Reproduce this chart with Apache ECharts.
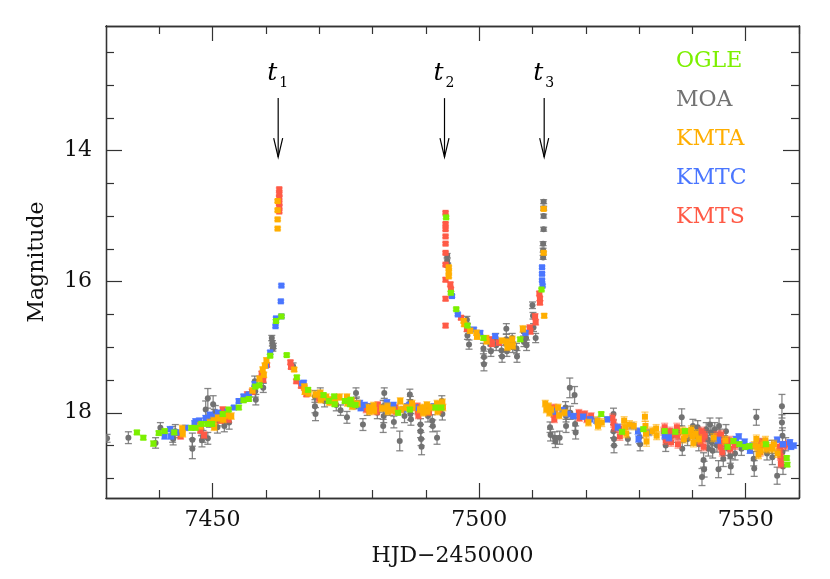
<!DOCTYPE html>
<html>
<head>
<meta charset="utf-8">
<script src="https://cdn.jsdelivr.net/npm/echarts@6.0.0/dist/echarts.min.js"></script>
<style>
  html, body { margin: 0; padding: 0; background: #fff; }
  #chart { width: 830px; height: 579px; }
</style>
</head>
<body>
<div id="chart"></div>
<script>
// [HJD-2450000, magnitude, error]
const ogle = [
  [7435.8, 18.30, 0.03], [7437.0, 18.38, 0.03], [7438.9, 18.47, 0.04], [7439.9, 18.31, 0.03],
  [7441.0, 18.28, 0.03], [7442.8, 18.30, 0.03], [7446.0, 18.23, 0.03], [7446.8, 18.23, 0.03],
  [7447.9, 18.17, 0.03], [7449.0, 18.17, 0.03], [7449.9, 18.17, 0.03], [7451.9, 18.02, 0.03],
  [7453.0, 17.95, 0.03], [7454.9, 17.92, 0.03], [7455.8, 17.81, 0.03], [7456.8, 17.79, 0.03],
  [7458.0, 17.60, 0.03], [7458.8, 17.58, 0.03], [7460.8, 17.13, 0.02], [7461.9, 16.60, 0.02],
  [7462.9, 16.53, 0.02], [7463.9, 17.12, 0.02], [7465.8, 17.46, 0.03], [7467.9, 17.65, 0.03],
  [7470.8, 17.73, 0.03], [7471.8, 17.82, 0.03], [7472.8, 17.75, 0.03], [7472.9, 17.87, 0.03],
  [7474.8, 17.82, 0.03], [7475.8, 17.87, 0.03], [7475.9, 17.80, 0.03], [7476.8, 17.88, 0.03],
  [7484.8, 18.00, 0.03], [7487.0, 17.95, 0.03], [7491.8, 17.92, 0.03], [7492.9, 17.92, 0.03],
  [7493.8, 15.02, 0.02], [7494.7, 16.17, 0.02], [7495.7, 16.42, 0.02], [7497.8, 16.67, 0.02],
  [7500.8, 16.86, 0.03], [7507.7, 16.88, 0.03], [7511.7, 16.12, 0.02], [7522.9, 18.02, 0.03],
  [7526.8, 18.29, 0.03], [7530.8, 18.25, 0.03], [7534.8, 18.28, 0.03], [7536.8, 18.29, 0.03],
  [7538.6, 18.28, 0.03], [7546.6, 18.52, 0.03], [7547.7, 18.43, 0.03], [7548.8, 18.48, 0.03],
  [7549.9, 18.52, 0.03], [7550.7, 18.51, 0.03], [7553.8, 18.48, 0.03], [7557.7, 18.69, 0.03],
  [7557.8, 18.79, 0.03]
];

const moa = [
  [7430.2, 18.39, 0.06], [7434.2, 18.38, 0.09], [7439.3, 18.46, 0.08], [7440.2, 18.23, 0.08],
  [7442.5, 18.33, 0.12], [7442.6, 18.40, 0.09], [7443.0, 18.28, 0.10], [7446.2, 18.41, 0.10],
  [7446.2, 18.55, 0.15], [7447.9, 18.25, 0.10], [7448.0, 18.42, 0.10], [7448.2, 18.36, 0.09],
  [7448.7, 17.95, 0.13], [7449.1, 17.78, 0.15], [7449.1, 18.39, 0.09], [7449.4, 18.12, 0.10],
  [7450.1, 17.87, 0.13], [7450.3, 18.05, 0.10], [7450.5, 18.00, 0.11], [7450.9, 18.22, 0.09],
  [7451.0, 18.10, 0.10], [7452.2, 18.20, 0.09], [7452.4, 18.06, 0.10], [7453.1, 18.15, 0.10],
  [7457.9, 17.52, 0.08], [7458.0, 17.67, 0.09], [7458.1, 17.80, 0.08], [7459.4, 17.47, 0.07],
  [7459.5, 17.62, 0.07], [7461.1, 16.86, 0.04], [7461.2, 16.94, 0.04], [7461.3, 17.02, 0.04],
  [7461.4, 16.98, 0.04], [7465.1, 17.29, 0.05], [7469.2, 17.75, 0.09], [7469.2, 17.90, 0.10],
  [7469.3, 18.02, 0.10], [7470.2, 17.70, 0.08], [7471.0, 17.82, 0.09], [7473.2, 17.88, 0.09],
  [7474.0, 17.96, 0.08], [7475.2, 18.07, 0.09], [7476.9, 17.70, 0.08], [7477.0, 17.85, 0.09],
  [7478.2, 18.18, 0.09], [7479.0, 17.95, 0.09], [7480.9, 18.00, 0.09], [7482.0, 17.90, 0.09],
  [7482.1, 18.05, 0.10], [7482.2, 17.70, 0.08], [7482.0, 18.20, 0.10], [7483.2, 17.95, 0.09],
  [7484.0, 18.14, 0.09], [7485.1, 18.43, 0.15], [7486.0, 18.05, 0.10], [7487.0, 17.72, 0.08],
  [7487.1, 17.83, 0.08], [7487.1, 18.02, 0.09], [7487.2, 18.10, 0.09], [7489.0, 18.18, 0.09],
  [7489.0, 18.28, 0.10], [7489.1, 18.40, 0.10], [7489.2, 18.52, 0.12], [7490.4, 18.05, 0.09],
  [7491.2, 18.12, 0.09], [7491.3, 18.20, 0.09], [7492.1, 18.38, 0.10], [7493.0, 17.82, 0.08],
  [7493.1, 18.02, 0.09],
  [7494.0, 15.60, 0.03], [7494.0, 15.68, 0.03], [7494.1, 15.75, 0.03], [7497.7, 16.58, 0.05],
  [7497.8, 16.70, 0.06], [7497.8, 16.82, 0.06], [7498.1, 16.96, 0.07], [7500.8, 17.02, 0.08],
  [7500.9, 17.15, 0.09], [7500.9, 17.26, 0.10], [7502.1, 16.95, 0.08], [7502.2, 17.06, 0.08],
  [7503.1, 16.86, 0.07], [7503.2, 16.97, 0.08], [7504.2, 17.05, 0.08], [7504.3, 17.14, 0.09],
  [7505.1, 16.72, 0.08], [7505.1, 16.88, 0.08], [7505.2, 17.06, 0.08], [7506.2, 16.86, 0.07],
  [7506.3, 17.00, 0.08], [7507.0, 17.02, 0.08], [7507.1, 17.14, 0.09], [7508.3, 16.76, 0.07],
  [7508.4, 16.92, 0.07], [7508.8, 16.86, 0.07], [7508.9, 16.97, 0.08], [7510.0, 16.36, 0.05],
  [7510.1, 16.52, 0.05], [7510.2, 16.70, 0.06], [7510.6, 16.86, 0.07], [7512.0, 15.42, 0.03],
  [7512.0, 15.52, 0.03], [7512.0, 15.63, 0.03], [7512.1, 15.20, 0.03], [7512.1, 14.78, 0.03],
  [7512.1, 14.88, 0.03], [7512.1, 15.00, 0.03],
  [7513.3, 18.22, 0.08], [7513.4, 18.34, 0.09], [7514.2, 18.38, 0.09], [7514.3, 18.44, 0.09],
  [7515.1, 18.38, 0.10], [7516.2, 17.92, 0.09], [7516.3, 18.05, 0.09], [7516.3, 18.20, 0.10],
  [7517.0, 17.62, 0.15], [7517.1, 18.00, 0.10], [7517.9, 17.73, 0.13], [7518.0, 18.17, 0.10],
  [7518.1, 18.30, 0.10], [7525.2, 18.02, 0.09], [7525.2, 18.28, 0.10], [7525.3, 18.40, 0.10],
  [7525.3, 18.50, 0.11], [7527.9, 18.40, 0.09], [7530.1, 18.37, 0.10], [7530.2, 18.48, 0.10],
  [7535.0, 18.50, 0.09], [7536.2, 18.35, 0.10], [7537.5, 18.30, 0.10], [7538.0, 18.07, 0.13],
  [7538.1, 18.55, 0.10], [7539.1, 18.40, 0.10], [7540.1, 18.20, 0.10], [7540.6, 18.30, 0.10],
  [7541.0, 18.22, 0.10], [7541.1, 18.35, 0.10], [7541.2, 18.48, 0.10], [7541.8, 18.98, 0.13],
  [7542.1, 18.72, 0.11], [7542.2, 18.86, 0.12], [7542.6, 18.25, 0.10], [7542.8, 18.40, 0.10],
  [7543.0, 18.55, 0.11], [7543.3, 18.18, 0.10], [7543.5, 18.30, 0.10], [7543.6, 18.45, 0.11],
  [7543.8, 18.58, 0.11], [7544.2, 18.25, 0.10], [7544.3, 18.40, 0.10], [7544.6, 18.50, 0.10],
  [7544.9, 18.86, 0.13], [7545.0, 18.20, 0.12], [7545.2, 18.35, 0.10], [7545.7, 18.62, 0.11],
  [7545.8, 18.70, 0.12], [7546.0, 18.45, 0.10], [7546.3, 18.28, 0.10], [7546.8, 18.55, 0.10],
  [7547.1, 18.66, 0.11], [7547.2, 18.82, 0.12], [7548.0, 18.62, 0.10], [7549.2, 18.55, 0.10],
  [7551.5, 18.70, 0.11], [7551.6, 18.85, 0.12], [7552.0, 18.07, 0.12], [7553.0, 18.50, 0.10],
  [7554.0, 18.62, 0.10], [7554.9, 18.52, 0.10], [7555.0, 18.68, 0.11], [7555.9, 18.96, 0.13],
  [7556.8, 17.90, 0.18], [7556.8, 18.15, 0.12], [7556.9, 18.35, 0.12], [7556.9, 18.60, 0.12],
  [7557.0, 18.82, 0.12], [7557.5, 18.48, 0.10]
];

const kmta = [
  [7444.3, 18.24, 0.05], [7444.4, 18.32, 0.05], [7447.7, 18.20, 0.05], [7449.5, 18.15, 0.05],
  [7450.2, 18.12, 0.05], [7450.3, 18.22, 0.05], [7451.0, 18.08, 0.05], [7452.0, 18.10, 0.05],
  [7452.6, 18.04, 0.05], [7453.5, 18.05, 0.05], [7457.5, 17.66, 0.04], [7458.8, 17.48, 0.04],
  [7459.4, 17.34, 0.04], [7459.6, 17.42, 0.04], [7459.8, 17.28, 0.04], [7460.1, 17.20, 0.04],
  [7462.2, 14.77, 0.02], [7462.2, 14.91, 0.02], [7462.2, 15.05, 0.02], [7462.2, 15.19, 0.02],
  [7465.3, 17.34, 0.03], [7467.2, 17.60, 0.04], [7467.3, 17.68, 0.04], [7468.0, 17.70, 0.05],
  [7469.3, 17.72, 0.05], [7470.2, 17.70, 0.05], [7470.3, 17.80, 0.05], [7471.3, 17.76, 0.05],
  [7471.9, 17.84, 0.05], [7472.2, 17.80, 0.05], [7473.0, 17.82, 0.05], [7473.8, 17.76, 0.05],
  [7475.2, 17.76, 0.05], [7475.3, 17.85, 0.05], [7476.1, 17.82, 0.05], [7476.2, 17.90, 0.05],
  [7477.2, 17.86, 0.05], [7479.3, 17.92, 0.05], [7479.4, 17.98, 0.05], [7480.2, 17.89, 0.05],
  [7480.3, 17.97, 0.05], [7481.8, 17.93, 0.05], [7482.8, 17.90, 0.05], [7482.9, 17.98, 0.05],
  [7483.8, 17.96, 0.05], [7485.2, 17.82, 0.05], [7485.3, 17.95, 0.05], [7486.3, 17.92, 0.05],
  [7487.4, 17.86, 0.05], [7487.5, 17.92, 0.05], [7488.9, 17.95, 0.05], [7489.4, 17.92, 0.05],
  [7489.5, 18.00, 0.05], [7490.2, 17.88, 0.05], [7490.3, 17.98, 0.05], [7491.0, 17.92, 0.05],
  [7492.1, 17.86, 0.05], [7492.2, 17.98, 0.05], [7493.1, 17.84, 0.05], [7493.2, 17.92, 0.05],
  [7494.3, 15.78, 0.02], [7494.3, 15.85, 0.02], [7494.3, 15.92, 0.02], [7497.1, 16.60, 0.03],
  [7497.2, 16.65, 0.03], [7498.3, 16.75, 0.04], [7499.5, 16.78, 0.04], [7499.6, 16.84, 0.04],
  [7501.3, 16.86, 0.04], [7501.4, 16.91, 0.04], [7504.3, 16.90, 0.04], [7505.2, 16.92, 0.05],
  [7505.3, 17.00, 0.05], [7506.2, 16.88, 0.05], [7506.3, 16.98, 0.05], [7508.2, 16.72, 0.05],
  [7512.1, 14.89, 0.02], [7512.1, 15.56, 0.02], [7512.2, 16.52, 0.03],
  [7512.4, 17.86, 0.05], [7512.6, 17.95, 0.05], [7513.0, 17.90, 0.05], [7513.2, 18.00, 0.05],
  [7513.5, 17.95, 0.05], [7514.8, 17.92, 0.05], [7515.0, 18.04, 0.05], [7516.0, 18.00, 0.05],
  [7520.5, 18.15, 0.05], [7522.2, 18.12, 0.06], [7522.3, 18.20, 0.06], [7523.0, 18.15, 0.06],
  [7527.2, 18.12, 0.06], [7527.4, 18.22, 0.06], [7527.6, 18.32, 0.06], [7528.2, 18.18, 0.06],
  [7529.0, 18.20, 0.06], [7531.1, 18.06, 0.07], [7531.2, 18.20, 0.07], [7531.3, 18.32, 0.07],
  [7531.4, 18.44, 0.07], [7532.5, 18.28, 0.06], [7533.2, 18.24, 0.06], [7533.3, 18.35, 0.06],
  [7538.2, 18.28, 0.06], [7538.4, 18.40, 0.06], [7538.7, 18.34, 0.06], [7539.4, 18.30, 0.06],
  [7539.8, 18.26, 0.06], [7540.0, 18.36, 0.06], [7540.2, 18.46, 0.06], [7540.6, 18.32, 0.06],
  [7541.2, 18.40, 0.06], [7544.0, 18.38, 0.06], [7546.2, 18.42, 0.06], [7551.6, 18.50, 0.06],
  [7552.0, 18.40, 0.06], [7552.2, 18.52, 0.06], [7552.4, 18.64, 0.06], [7552.8, 18.58, 0.06],
  [7553.3, 18.48, 0.06], [7553.7, 18.42, 0.06], [7553.9, 18.55, 0.06], [7554.3, 18.52, 0.06],
  [7555.0, 18.55, 0.06], [7555.3, 18.48, 0.06], [7556.0, 18.62, 0.06]
];

const kmtc = [
  [7441.0, 18.36, 0.04], [7442.0, 18.25, 0.04], [7442.2, 18.36, 0.04], [7443.2, 18.30, 0.04],
  [7444.9, 18.23, 0.04], [7446.6, 18.16, 0.04], [7446.8, 18.13, 0.04], [7447.5, 18.12, 0.04],
  [7448.7, 18.08, 0.04], [7449.5, 18.03, 0.04], [7449.9, 18.10, 0.04], [7450.3, 18.06, 0.04],
  [7451.0, 18.00, 0.04], [7452.8, 17.98, 0.03], [7454.0, 17.92, 0.03], [7454.9, 17.82, 0.03],
  [7455.8, 17.75, 0.03], [7456.8, 17.72, 0.03], [7457.9, 17.56, 0.03], [7460.0, 17.28, 0.03],
  [7460.8, 17.08, 0.03], [7461.8, 16.68, 0.02], [7461.9, 16.56, 0.02], [7462.9, 16.53, 0.02],
  [7462.8, 16.30, 0.02], [7462.9, 16.06, 0.02], [7466.8, 17.55, 0.03], [7467.1, 17.54, 0.03],
  [7476.5, 17.88, 0.04], [7477.6, 17.85, 0.04], [7477.8, 17.93, 0.04], [7478.5, 17.88, 0.04],
  [7479.9, 17.90, 0.04], [7482.7, 17.84, 0.04], [7482.8, 17.92, 0.04], [7483.9, 17.88, 0.04],
  [7485.8, 17.95, 0.04], [7486.5, 17.90, 0.04], [7486.9, 17.88, 0.04], [7488.0, 17.92, 0.04],
  [7491.5, 17.90, 0.04],
  [7494.9, 16.22, 0.02], [7496.0, 16.50, 0.02], [7499.0, 16.73, 0.03], [7500.2, 16.78, 0.03],
  [7503.0, 16.83, 0.03], [7508.7, 16.78, 0.03], [7511.8, 15.78, 0.02], [7511.8, 15.88, 0.02],
  [7511.8, 15.98, 0.02], [7511.9, 16.06, 0.02],
  [7513.9, 17.98, 0.04], [7515.6, 17.96, 0.04], [7516.6, 18.02, 0.04], [7517.7, 18.05, 0.04],
  [7519.5, 18.06, 0.04], [7520.8, 18.10, 0.04], [7522.0, 18.12, 0.04], [7524.0, 18.10, 0.04],
  [7526.0, 18.22, 0.05], [7528.6, 18.20, 0.05], [7529.8, 18.28, 0.05], [7529.9, 18.40, 0.05],
  [7531.8, 18.30, 0.05], [7534.8, 18.35, 0.05], [7535.6, 18.38, 0.05], [7539.0, 18.32, 0.05],
  [7544.8, 18.42, 0.05], [7548.2, 18.40, 0.04], [7548.7, 18.36, 0.04], [7549.3, 18.48, 0.04],
  [7549.8, 18.44, 0.04], [7550.0, 18.52, 0.04], [7550.6, 18.52, 0.04], [7550.8, 18.58, 0.04],
  [7551.3, 18.50, 0.04], [7555.9, 18.41, 0.04], [7557.0, 18.48, 0.04], [7558.3, 18.45, 0.04],
  [7558.5, 18.52, 0.04], [7559.0, 18.50, 0.04]
];

const kmts = [
  [7443.5, 18.31, 0.04], [7444.0, 18.36, 0.04], [7447.7, 18.27, 0.04], [7448.4, 18.34, 0.05],
  [7451.5, 18.12, 0.04], [7451.9, 17.95, 0.04], [7452.5, 18.05, 0.04], [7453.0, 18.10, 0.05],
  [7456.5, 17.72, 0.04], [7457.4, 17.68, 0.04], [7459.2, 17.40, 0.03], [7459.5, 17.50, 0.03],
  [7460.2, 17.27, 0.03], [7462.5, 14.59, 0.02], [7462.5, 14.66, 0.02], [7462.5, 14.72, 0.02],
  [7462.5, 14.80, 0.02], [7462.5, 14.86, 0.02], [7462.5, 14.93, 0.02], [7464.6, 17.23, 0.03],
  [7464.7, 17.30, 0.03], [7465.7, 17.52, 0.03], [7466.6, 17.59, 0.03], [7467.2, 17.62, 0.03],
  [7467.6, 17.72, 0.03], [7470.0, 17.78, 0.05], [7478.8, 17.95, 0.05], [7480.7, 17.92, 0.05],
  [7480.8, 17.98, 0.05], [7481.0, 17.88, 0.05], [7483.5, 17.95, 0.05], [7484.3, 17.92, 0.05],
  [7484.4, 17.98, 0.05], [7488.4, 17.90, 0.05], [7488.5, 17.98, 0.05], [7488.6, 18.04, 0.05],
  [7489.0, 17.94, 0.05], [7490.5, 17.92, 0.05], [7490.6, 17.99, 0.05], [7492.5, 17.95, 0.05],
  [7493.7, 14.95, 0.02], [7493.7, 15.12, 0.02], [7493.7, 15.20, 0.02], [7493.7, 15.31, 0.02],
  [7493.7, 15.42, 0.02], [7493.7, 15.56, 0.02], [7493.7, 15.74, 0.02], [7493.7, 15.97, 0.03],
  [7493.7, 16.26, 0.03], [7493.7, 16.67, 0.03], [7494.6, 16.04, 0.03], [7494.7, 16.12, 0.03],
  [7496.6, 16.55, 0.03], [7497.7, 16.72, 0.04], [7502.3, 16.88, 0.04], [7502.4, 16.95, 0.04],
  [7503.7, 16.93, 0.04], [7509.5, 16.70, 0.04], [7509.6, 16.76, 0.04], [7510.5, 16.53, 0.04],
  [7510.6, 16.62, 0.04], [7511.3, 16.18, 0.03], [7511.4, 16.26, 0.03], [7511.4, 16.32, 0.03],
  [7514.0, 17.92, 0.05], [7514.0, 18.02, 0.05], [7514.1, 18.10, 0.05], [7514.2, 17.98, 0.05],
  [7518.7, 18.00, 0.05], [7518.8, 18.08, 0.05], [7518.9, 18.04, 0.05], [7519.8, 18.02, 0.05],
  [7520.2, 18.10, 0.05], [7521.0, 18.05, 0.05], [7525.0, 18.08, 0.06], [7525.2, 18.16, 0.06],
  [7525.4, 18.22, 0.06], [7526.3, 18.24, 0.06], [7526.4, 18.36, 0.06], [7534.6, 18.28, 0.06],
  [7534.8, 18.22, 0.06], [7534.9, 18.32, 0.06], [7535.0, 18.42, 0.06], [7535.5, 18.36, 0.06],
  [7535.8, 18.28, 0.06], [7536.0, 18.45, 0.06], [7536.3, 18.32, 0.06], [7537.1, 18.22, 0.06],
  [7537.2, 18.35, 0.06], [7537.3, 18.48, 0.06], [7538.8, 18.30, 0.06], [7541.5, 18.45, 0.06],
  [7541.7, 18.28, 0.06], [7541.9, 18.40, 0.06], [7542.0, 18.32, 0.06], [7542.1, 18.52, 0.06],
  [7542.3, 18.35, 0.06], [7544.6, 18.35, 0.06], [7545.3, 18.52, 0.06], [7545.4, 18.33, 0.06],
  [7545.5, 18.45, 0.06], [7545.6, 18.60, 0.06], [7546.7, 18.48, 0.06], [7547.0, 18.42, 0.06],
  [7547.1, 18.55, 0.06], [7548.0, 18.50, 0.06], [7552.6, 18.52, 0.06], [7552.7, 18.60, 0.06],
  [7552.8, 18.45, 0.06], [7556.3, 18.58, 0.06], [7556.4, 18.52, 0.06], [7556.5, 18.66, 0.06],
  [7556.6, 18.78, 0.06], [7556.7, 18.70, 0.06], [7557.3, 18.50, 0.06], [7558.0, 18.48, 0.06]
];

// caustic times marked with arrows
const tTimes = [7462.3, 7493.5, 7512.2];
const tNames = ['1', '2', '3'];

const xMajor = [7450, 7500, 7550];
const xMinor = [7440, 7460, 7470, 7480, 7490, 7510, 7520, 7530, 7540, 7560];
const yMajor = [14, 16, 18];
const yMinor = [12.5, 13, 13.5, 14.5, 15, 15.5, 16.5, 17, 17.5, 18.5, 19];

const FONT = 'DejaVu Serif';
const AXIS_COLOR = '#333';

const colors = {
  OGLE: '#7cf000',
  MOA: '#727272',
  KMTA: '#ffae00',
  KMTC: '#4a76ff',
  KMTS: '#ff5a46'
};
const barColors = {
  OGLE: 'rgba(124,240,0,0.6)',
  MOA: 'rgba(114,114,114,0.85)',
  KMTA: 'rgba(255,174,0,0.6)',
  KMTC: 'rgba(74,118,255,0.55)',
  KMTS: 'rgba(255,90,70,0.55)'
};

const chart = echarts.init(document.getElementById('chart'));

function pointRender(name, round) {
  return function (params, api) {
    const t = api.value(0), m = api.value(1), e = api.value(2);
    const c = api.coord([t, m]);
    const hi = api.coord([t, m - e]);
    const lo = api.coord([t, m + e]);
    const cap = 3.5;
    const ls = { stroke: barColors[name], lineWidth: 1.3 };
    const marker = round
      ? { type: 'circle', shape: { cx: c[0], cy: c[1], r: 3 }, style: { fill: colors[name] } }
      : { type: 'rect', shape: { x: c[0] - 3, y: c[1] - 3, width: 6, height: 6 }, style: { fill: colors[name] } };
    return {
      type: 'group',
      children: [
        { type: 'line', shape: { x1: c[0], y1: hi[1], x2: c[0], y2: lo[1] }, style: ls },
        { type: 'line', shape: { x1: c[0] - cap, y1: hi[1], x2: c[0] + cap, y2: hi[1] }, style: ls },
        { type: 'line', shape: { x1: c[0] - cap, y1: lo[1], x2: c[0] + cap, y2: lo[1] }, style: ls },
        marker
      ]
    };
  };
}

function survey(name, data, round) {
  return {
    name: name,
    type: 'custom',
    clip: true,
    data: data,
    encode: { x: 0, y: 1 },
    renderItem: pointRender(name, round)
  };
}

function arrowRender(params, api) {
  const t = api.value(0);
  const top = api.coord([t, 13.2]);
  const tip = api.coord([t, 14.1]);
  const ls = { stroke: '#000', lineWidth: 1.2 };
  return {
    type: 'group',
    children: [
      { type: 'line', shape: { x1: top[0], y1: top[1], x2: tip[0], y2: tip[1] }, style: ls },
      {
        type: 'polyline',
        shape: { points: [[tip[0] - 4.5, tip[1] - 19], [tip[0], tip[1]], [tip[0] + 4.5, tip[1] - 19]] },
        style: { stroke: '#000', lineWidth: 1.2, fill: null }
      },
      {
        type: 'text',
        style: {
          text: 't', x: top[0] - 6, y: top[1] - 25, align: 'center', verticalAlign: 'middle',
          font: 'italic 25px "DejaVu Serif"', fill: '#000'
        }
      },
      {
        type: 'text',
        style: {
          text: tNames[params.dataIndex], x: top[0] + 5.5, y: top[1] - 15, align: 'center', verticalAlign: 'middle',
          font: '14px "DejaVu Serif"', fill: '#000'
        }
      }
    ]
  };
}

function xAxisDef(position, ticks, length, labels) {
  return {
    type: 'value', position: position, min: 7430, max: 7560,
    axisLine: { show: true, onZero: false, lineStyle: { color: AXIS_COLOR, width: 1.3 } },
    axisTick: { inside: true, length: length, customValues: ticks, lineStyle: { color: AXIS_COLOR, width: 1.2 } },
    axisLabel: labels
      ? { show: true, customValues: xMajor, margin: 11, color: '#111', fontFamily: FONT, fontSize: 22, formatter: v => String(v) }
      : { show: false },
    splitLine: { show: false }
  };
}

function yAxisDef(position, ticks, length, labels) {
  return {
    type: 'value', position: position, min: 12.1, max: 19.3, inverse: true,
    axisLine: { show: true, onZero: false, lineStyle: { color: AXIS_COLOR, width: 1.3 } },
    axisTick: { inside: true, length: length, customValues: ticks, lineStyle: { color: AXIS_COLOR, width: 1.2 } },
    axisLabel: labels
      ? { show: true, customValues: yMajor, margin: 14, color: '#111', fontFamily: FONT, fontSize: 22, formatter: v => String(v) }
      : { show: false },
    splitLine: { show: false }
  };
}

const xMain = xAxisDef('bottom', xMajor, 15, true);
xMain.name = 'HJD\u22122450000';
xMain.nameLocation = 'middle';
xMain.nameGap = 47;
xMain.nameTextStyle = { color: '#111', fontFamily: FONT, fontSize: 22 };

const yMain = yAxisDef('left', yMajor, 16, true);
yMain.name = 'Magnitude';
yMain.nameLocation = 'middle';
yMain.nameGap = 58;
yMain.nameTextStyle = { color: '#111', fontFamily: FONT, fontSize: 22 };

chart.setOption({
  backgroundColor: '#fff',
  animation: false,
  grid: { left: 106, top: 26, width: 693, height: 472 },
  legend: {
    orient: 'vertical',
    left: 666,
    top: 45,
    itemGap: 17,
    itemWidth: 0,
    itemHeight: 0,
    icon: 'none',
    selectedMode: false,
    textStyle: { fontFamily: FONT, fontSize: 22 },
    data: ['OGLE', 'MOA', 'KMTA', 'KMTC', 'KMTS'].map(n => ({ name: n, textStyle: { color: colors[n] } }))
  },
  xAxis: [
    xMain,
    xAxisDef('bottom', xMinor, 8, false),
    xAxisDef('top', xMajor, 15, false),
    xAxisDef('top', xMinor, 8, false)
  ],
  yAxis: [
    yMain,
    yAxisDef('left', yMinor, 8, false),
    yAxisDef('right', yMajor, 16, false),
    yAxisDef('right', yMinor, 8, false)
  ],
  series: [
    survey('MOA', moa, true),
    survey('KMTS', kmts, false),
    survey('KMTC', kmtc, false),
    survey('KMTA', kmta, false),
    survey('OGLE', ogle, false),
    {
      type: 'custom',
      clip: false,
      silent: true,
      data: tTimes.map(t => [t]),
      encode: { x: 0 },
      renderItem: arrowRender
    }
  ]
});
</script>
</body>
</html>
